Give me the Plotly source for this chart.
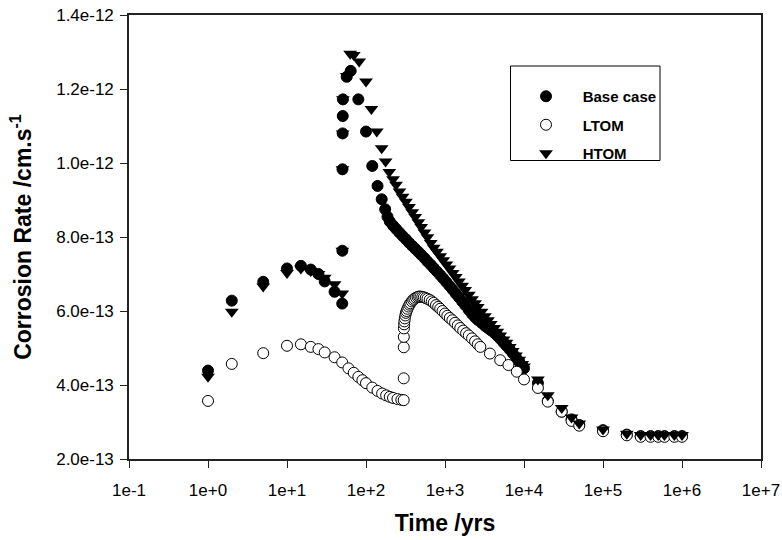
import plotly.graph_objects as go

# ---------------- data (rates in units of 1e-13 cm/s) ----------------
SCALE = 1e-13

base_t = [1, 2, 5, 10, 15, 20, 25, 30, 40, 50, 50.2, 50.4, 50.6, 50.8, 51, 57, 64, 80, 100, 120, 140, 158, 175, 187,
          200, 220, 240, 265, 290, 320, 350, 385, 420, 460, 500, 550, 600, 660, 720, 790, 870, 950, 1040, 1140,
          1250, 1370, 1500, 1650, 1800, 2000, 2200, 2400, 2600, 2900, 3200, 3500, 3800, 4200, 4600, 5000, 5500,
          6000, 6600, 7200, 7900, 8700, 9500, 10000,
          15000, 20000, 30000, 40000, 50000, 100000, 200000, 300000, 400000, 500000, 600000, 800000, 1000000]
base_v = [4.39, 6.28, 6.79, 7.15, 7.22, 7.12, 7.00, 6.80, 6.52, 6.20, 7.63, 9.83, 10.80, 11.27, 11.72, 12.33, 12.49,
          11.72, 10.85, 9.92, 9.38, 9.02, 8.75, 8.55,
          8.42, 8.31, 8.22, 8.12, 8.03, 7.94, 7.85, 7.76, 7.68, 7.60, 7.52, 7.43, 7.34, 7.25, 7.16, 7.07, 6.97, 6.88,
          6.78, 6.68, 6.58, 6.47, 6.37, 6.26, 6.16, 6.03, 5.92, 5.83, 5.76, 5.68, 5.60, 5.54, 5.48, 5.41, 5.33, 5.25,
          5.15, 5.06, 4.96, 4.86, 4.75, 4.63, 4.52, 4.45,
          4.05, 3.57, 3.28, 3.07, 2.92, 2.78, 2.66, 2.62, 2.62, 2.62, 2.62, 2.62, 2.62]

ltom_t = [1, 2, 5, 10, 15, 20, 25, 30, 40, 50, 60, 70, 80, 90, 100, 120, 140, 160, 180, 200, 220, 250, 280, 300,
          300, 300.5, 301, 302, 304, 306, 310, 315, 320, 327, 335, 345, 355, 365, 380, 395, 410, 430, 450, 470,
          490, 515, 540, 570, 600, 640, 680, 720, 770, 820, 870, 930, 1000, 1070, 1150, 1240, 1340, 1450, 1560,
          1700, 1850, 2000, 2200, 2400, 2600, 2800, 3700, 5000, 6350, 8100, 10000,
          15000, 20000, 30000, 40000, 50000, 100000, 200000, 300000, 400000, 500000, 600000, 800000, 1000000]
ltom_v = [3.57, 4.57, 4.86, 5.06, 5.10, 5.03, 4.97, 4.88, 4.75, 4.61, 4.45, 4.33, 4.22, 4.13, 4.05, 3.93, 3.84,
          3.77, 3.72, 3.68, 3.65, 3.62, 3.60, 3.59,
          4.18, 5.02, 5.30, 5.53, 5.64, 5.72, 5.80, 5.88, 5.95, 6.00, 6.06, 6.12, 6.17, 6.21, 6.26, 6.30, 6.33,
          6.36, 6.38, 6.39, 6.39, 6.38, 6.37, 6.35, 6.33, 6.30, 6.26, 6.22, 6.16, 6.11, 6.06, 6.00, 5.93, 5.87,
          5.81, 5.75, 5.68, 5.61, 5.54, 5.47, 5.40, 5.34, 5.26, 5.18, 5.10, 5.03, 4.85, 4.67, 4.54, 4.36, 4.15,
          3.92, 3.55, 3.28, 3.03, 2.90, 2.75, 2.64, 2.60, 2.60, 2.60, 2.60, 2.60, 2.60]

htom_t = [1, 2, 5, 10, 15, 20, 25, 30, 40, 50, 50.2, 50.4, 50.6, 51, 57, 63, 70, 82, 100, 117, 137, 158, 177, 197,
          220, 240, 265, 290, 320, 350, 385, 420, 460, 500, 550, 600, 660, 720, 790, 870, 950, 1040, 1140,
          1250, 1370, 1500, 1650, 1800, 2000, 2200, 2400, 2600, 2900, 3200, 3500, 3800, 4200, 4600, 5000, 5500,
          6000, 6600, 7200, 7900, 8700, 9500, 10000,
          15000, 20000, 30000, 40000, 50000, 100000, 200000, 300000, 400000, 500000, 600000, 800000, 1000000]
htom_v = [4.22, 5.98, 6.66, 7.03, 7.15, 7.08, 7.00, 6.90, 6.72, 6.47, 7.63, 9.83, 10.80, 11.72, 12.35, 12.95,
          12.92, 12.74, 12.20, 11.46, 10.85, 10.40, 10.04, 9.76,
          9.56, 9.41, 9.23, 9.09, 8.95, 8.81, 8.67, 8.54, 8.40, 8.27, 8.12, 7.99, 7.84, 7.71, 7.60, 7.48, 7.37,
          7.26, 7.15, 7.03, 6.92, 6.80, 6.68, 6.57, 6.44, 6.32, 6.21, 6.11, 5.98, 5.86, 5.75, 5.65, 5.54, 5.44,
          5.34, 5.23, 5.14, 5.03, 4.92, 4.80, 4.68, 4.57, 4.50,
          4.15, 3.72, 3.38, 3.12, 2.96, 2.80, 2.68, 2.65, 2.65, 2.65, 2.65, 2.65, 2.65]

x_tickvals = [0.1, 1, 10, 100, 1000, 1e4, 1e5, 1e6, 1e7]
x_ticktext = ["1e-1", "1e+0", "1e+1", "1e+2", "1e+3", "1e+4", "1e+5", "1e+6", "1e+7"]
y_tickvals = [2e-13, 4e-13, 6e-13, 8e-13, 1.0e-12, 1.2e-12, 1.4e-12]
y_ticktext = ["2.0e-13", "4.0e-13", "6.0e-13", "8.0e-13", "1.0e-12", "1.2e-12", "1.4e-12"]

NBSP = "\u00a0" * 4
FONT = "Liberation Sans, Arial, sans-serif"

fig = go.Figure()
fig.add_trace(go.Scatter(
    x=base_t, y=[v * SCALE for v in base_v], mode="markers", name=NBSP + "Base case", legendgroup="a",
    marker=dict(symbol="circle", size=11, color="black", line=dict(color="black", width=1))))
fig.add_trace(go.Scatter(
    x=ltom_t, y=[v * SCALE for v in ltom_v], mode="markers", name=NBSP + "LTOM", legendgroup="b",
    marker=dict(symbol="circle", size=11, color="white", line=dict(color="black", width=1))))
fig.add_trace(go.Scatter(
    x=htom_t, y=[v * SCALE for v in htom_v], mode="markers", name=NBSP + "HTOM", legendgroup="c",
    marker=dict(symbol="triangle-down", size=12, color="black", line=dict(color="black", width=0))))

W, H = 782, 540
L, R, T, B = 129, 21, 15, 81
pw, ph = W - L - R, H - T - B


def px_x(x):
    return (x - L) / pw


def px_y(y):
    return 1 - (y - T) / ph


fig.add_shape(type="rect", xref="paper", yref="paper",
              x0=px_x(510.5), x1=px_x(660), y0=px_y(66), y1=px_y(160.5),
              line=dict(color="black", width=1), fillcolor="white", layer="below")

axis_common = dict(
    showgrid=False, zeroline=False, showline=True, linecolor="#222", linewidth=1.5, mirror=True,
    ticks="outside", ticklen=7, tickwidth=1, tickcolor="#222",
    tickfont=dict(family=FONT, size=17, color="black"),
)

fig.update_layout(
    width=W, height=H,
    margin=dict(l=L, r=R, t=T, b=B, autoexpand=False),
    paper_bgcolor="white", plot_bgcolor="white",
    xaxis=dict(type="log", range=[-1, 7], tickvals=x_tickvals, ticktext=x_ticktext, ticklabelstandoff=8,
               title=dict(text="<b>Time /yrs</b>", font=dict(family=FONT, size=23, color="black"), standoff=16),
               **axis_common),
    yaxis=dict(range=[2e-13, 1.4e-12], tickvals=y_tickvals, ticktext=y_ticktext, ticklabelstandoff=3,
               title=dict(text="<b>Corrosion Rate /cm.s<sup>-1</sup></b>",
                          font=dict(family=FONT, size=23, color="black"), standoff=18),
               **axis_common),
    showlegend=True,
    legend=dict(x=px_x(526), y=px_y(80), xanchor="left", yanchor="top",
                bgcolor="rgba(0,0,0,0)", borderwidth=0, tracegroupgap=6,
                font=dict(family=FONT, size=15, color="black", weight="bold")),
)

fig.write_html("out.html")
